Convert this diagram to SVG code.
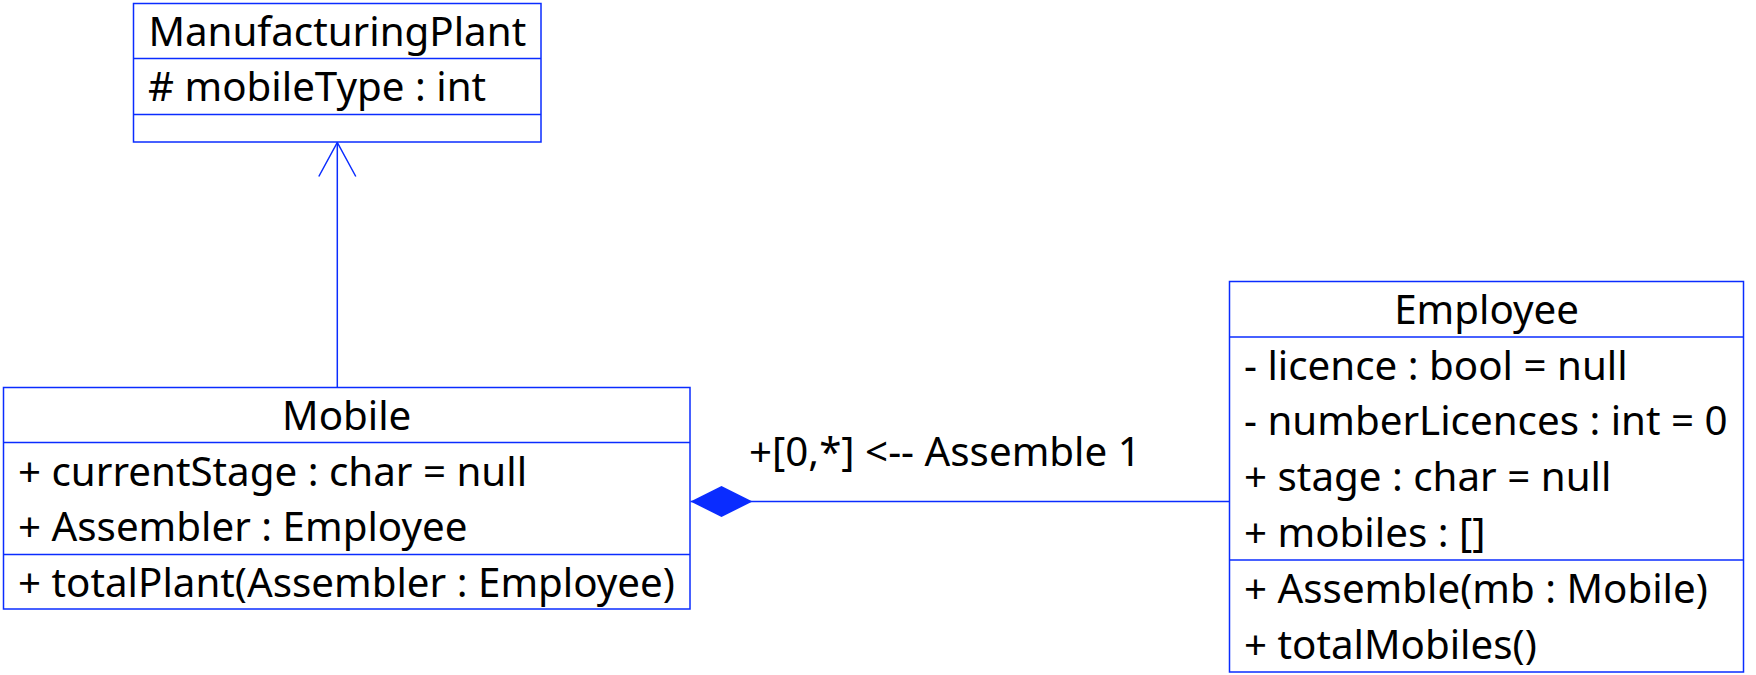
<svg xmlns="http://www.w3.org/2000/svg" width="1756" height="675" viewBox="0 0 1756 675">
<style>
.box{fill:#ffffff;stroke:#0a2cff;stroke-width:1.5}
.div{stroke:#0a2cff;stroke-width:1.5}
.t{font-family:"Noto Sans","Open Sans","DejaVu Sans",sans-serif;font-size:40.3px;fill:#000000}
.c{text-anchor:middle}
.edge{stroke:#0a2cff;stroke-width:1.5;fill:none}
</style>
<defs>
<marker id="diamond" viewBox="0 0 62 32" refX="0" refY="16" markerWidth="62" markerHeight="32" markerUnits="userSpaceOnUse" orient="auto">
<path d="M0,16 L31,0.5 L62,16 L31,31.5 Z" fill="#0a2cff" stroke="none"/>
</marker>
<marker id="openArrow" viewBox="0 0 40 40" refX="20" refY="2" markerWidth="40" markerHeight="40" markerUnits="userSpaceOnUse" orient="0">
<path d="M1.5,36 L20,2 L38.5,36" fill="none" stroke="#0a2cff" stroke-width="1.5"/>
</marker>
</defs>
<g id="connectors">
<line class="edge" x1="337.3" y1="387.5" x2="337.3" y2="142.5" marker-end="url(#openArrow)"/>
<line class="edge" x1="690.5" y1="501.5" x2="1229.5" y2="501.5" marker-start="url(#diamond)"/>
<text class="t" x="749" y="466">+[0,*] &lt;-- Assemble 1</text>
</g>
<g id="ManufacturingPlant">
<rect class="box" x="133.5" y="3.5" width="407.5" height="138.5"/>
<line class="div" x1="133.5" y1="58.5" x2="541" y2="58.5"/>
<line class="div" x1="133.5" y1="114.5" x2="541" y2="114.5"/>
<text class="t c" x="337.3" y="46">ManufacturingPlant</text>
<text class="t" x="148" y="101"># mobileType : int</text>
</g>
<g id="Mobile">
<rect class="box" x="3.5" y="387.5" width="686.5" height="221.5"/>
<line class="div" x1="3.5" y1="442.5" x2="690" y2="442.5"/>
<line class="div" x1="3.5" y1="554.5" x2="690" y2="554.5"/>
<text class="t c" x="346.7" y="430">Mobile</text>
<text class="t" x="18" y="485.5">+ currentStage : char = null</text>
<text class="t" x="18" y="541">+ Assembler : Employee</text>
<text class="t" x="18" y="597">+ totalPlant(Assembler : Employee)</text>
</g>
<g id="Employee">
<rect class="box" x="1229.5" y="281.5" width="514" height="390.5"/>
<line class="div" x1="1229.5" y1="337" x2="1743.5" y2="337"/>
<line class="div" x1="1229.5" y1="560" x2="1743.5" y2="560"/>
<text class="t c" x="1486.6" y="323.5">Employee</text>
<text class="t" x="1244" y="379.5">- licence : bool = null</text>
<text class="t" x="1244" y="435.3">- numberLicences : int = 0</text>
<text class="t" x="1244" y="491">+ stage : char = null</text>
<text class="t" x="1244" y="546.8">+ mobiles : []</text>
<text class="t" x="1244" y="602.5">+ Assemble(mb : Mobile)</text>
<text class="t" x="1244" y="658.5">+ totalMobiles()</text>
</g>
</svg>
